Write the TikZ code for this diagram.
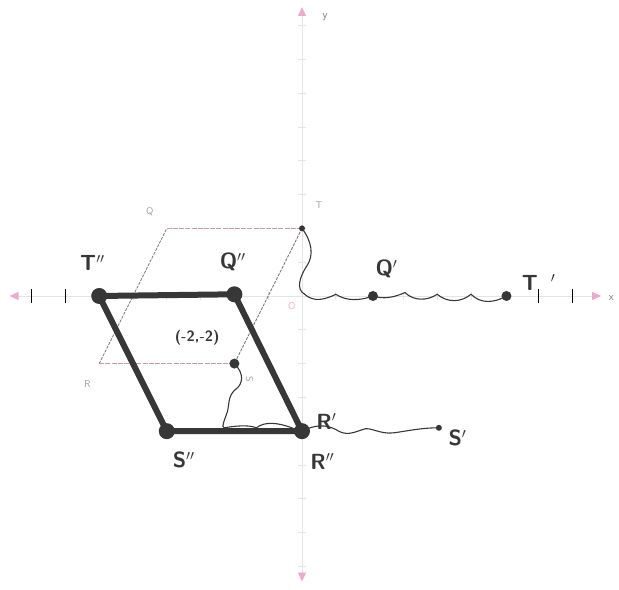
\documentclass[tikz,border=0pt]{standalone}
\usetikzlibrary{arrows.meta}
\definecolor{pinkc}{RGB}{236,170,205}
\definecolor{axisc}{RGB}{228,228,232}
\definecolor{inkc}{RGB}{55,55,55}
\definecolor{pencil}{RGB}{120,120,120}
\begin{document}
\begin{tikzpicture}[x=33.8bp,y=33.8bp,
  axisline/.style={draw=axisc,line width=0.8bp,{Triangle[color=pinkc,length=9bp,width=8bp]}-{Triangle[color=pinkc,length=9bp,width=8bp]}},
  tickmark/.style={draw=axisc,line width=0.8bp},
  handtick/.style={draw=black,line width=1.6bp},
  thickedge/.style={draw=inkc,line width=6bp,line join=round,line cap=round},
  origedge/.style={draw=pencil,line width=0.8bp,dash pattern=on 3bp off 1.2bp},
  origpink/.style={draw=pinkc!70!pencil,line width=0.8bp,dash pattern=on 5bp off 1.2bp},
  wavy/.style={draw=inkc,line width=1.1bp,line cap=round},
  bigdot/.style={circle,fill=inkc,inner sep=0pt,minimum size=16bp},
  middot/.style={circle,fill=inkc,inner sep=0pt,minimum size=10bp},
  smalldot/.style={circle,fill=inkc,inner sep=0pt,minimum size=6bp},
  biglabel/.style={inkc,font=\sffamily\bfseries\fontsize{22}{24}\selectfont,inner sep=0pt},
  midlabel/.style={inkc,font=\sffamily\bfseries\fontsize{15}{17}\selectfont,inner sep=0pt},
  faintlabel/.style={pencil!70,font=\sffamily\fontsize{10}{12}\selectfont,inner sep=0pt},
  axislabel/.style={inkc!70,font=\sffamily\fontsize{11}{12}\selectfont,inner sep=0pt}]
\useasboundingbox (-8.935,-8.698) rectangle (9.379,8.757);
% axes
\coordinate (xl) at (-8.65,0);
\coordinate (xr) at (8.85,0);
\coordinate (yb) at (0,-8.45);
\coordinate (yt) at (0,8.55);
\draw[axisline] (xl) -- (xr);
\draw[axisline] (yb) -- (yt);
\foreach \i in {-8,...,-1,1,2,...,8} {
  \draw[tickmark] (\i,-0.13) -- (\i,0.13);
  \draw[tickmark] (-0.13,\i) -- (0.13,\i);
}
\foreach \i in {-8,-7,7,8} {\draw[handtick] (\i,-0.2) -- (\i,0.2);}
\node[axislabel] (xlab) at (9.15,-0.05) {x};
\node[axislabel] (ylab) at (0.68,8.25) {y};
\node[faintlabel,text=pinkc] (olab) at (-0.3,-0.3) {O};
% original parallelogram QTSR
\coordinate (Q) at (-4,2);
\coordinate (T) at (0,2);
\coordinate (S) at (-2,-2);
\coordinate (R) at (-6,-2);
\draw[origpink] (Q) -- (T);
\draw[origedge] (T) -- (S);
\draw[origpink] (S) -- (R);
\draw[origedge] (R) -- (Q);
\node[faintlabel] (qlab) at (-4.5,2.5) {Q};
\node[faintlabel] (tlab) at (0.5,2.7) {T};
\node[faintlabel] (rlab) at (-6.35,-2.6) {R};
\node[faintlabel,rotate=-90] (slab) at (-1.55,-2.45) {S};
% image parallelogram
\node[bigdot] (T2) at (-6,0) {};
\node[bigdot] (Q2) at (-2,0.05) {};
\node[bigdot] (R2) at (0,-4) {};
\node[bigdot] (S2) at (-4,-4) {};
\draw[thickedge] (T2.center) -- (Q2.center) -- (R2.center) -- (S2.center) -- cycle;
% small dots
\node[smalldot] (Tdot) at (T) {};
\node[middot] (Sdot) at (S) {};
\node[middot] (Q1) at (2.1,0) {};
\node[middot] (T1) at (6.05,0) {};
\node[smalldot] (S1) at (4.05,-3.9) {};
% wavy path from T to T'
\draw[wavy] (Tdot.center) .. controls (0.3,1.6) and (0.35,1.2) .. (0.15,0.9)
  .. controls (-0.05,0.6) and (-0.2,0.2) .. (0.08,0.05)
  .. controls (0.35,-0.2) and (0.7,-0.1) .. (1,0.05)
  .. controls (1.3,-0.15) and (1.7,-0.15) .. (Q1.center)
  .. controls (2.4,-0.1) and (2.7,-0.05) .. (3.05,0.1)
  .. controls (3.3,-0.15) and (3.7,-0.15) .. (4,0.05)
  .. controls (4.3,-0.2) and (4.7,-0.2) .. (5,0.05)
  .. controls (5.3,-0.25) and (5.7,-0.2) .. (T1.center);
% wavy path from S down to R''
\draw[wavy] (Sdot.center) .. controls (-1.7,-2.3) and (-1.75,-2.6) .. (-1.95,-2.75)
  .. controls (-2.2,-2.95) and (-2.15,-3.2) .. (-2.2,-3.4)
  .. controls (-2.3,-3.7) and (-2.4,-3.9) .. (-2.3,-3.9)
  .. controls (-2.0,-3.85) and (-1.6,-3.8) .. (-1.35,-3.9)
  .. controls (-1.1,-3.7) and (-0.7,-3.75) .. (-0.3,-3.9)
  .. controls (-0.2,-3.95) and (-0.1,-4) .. (R2.center);
% wavy path from R'' to S'
\draw[wavy] (R2.center) .. controls (0.4,-3.8) and (0.7,-3.8) .. (1.0,-3.95)
  .. controls (1.3,-4.15) and (1.5,-4.05) .. (1.8,-3.95)
  .. controls (2.0,-3.85) and (2.3,-4.1) .. (2.7,-4.05)
  .. controls (3.1,-4.0) and (3.5,-3.9) .. (S1.center);
% labels
\node[biglabel] (T2lab) at (-6.2,0.98) {T$''$};
\node[biglabel] (Q2lab) at (-2.05,1.0) {Q$''$};
\node[biglabel] (S2lab) at (-3.5,-4.85) {S$''$};
\node[biglabel] (R2lab) at (0.6,-4.9) {R$''$};
\node[biglabel] (R1lab) at (0.72,-3.72) {R$'$};
\node[biglabel] (S1lab) at (4.6,-4.2) {S$'$};
\node[biglabel] (Q1lab) at (2.5,0.8) {Q$'$};
\node[biglabel] (T1lab) at (7.0,0.4) {T\hspace{0.6em}$'$};
\node[midlabel] (coord) at (-3.1,-1.25) {(-2,-2)};
\end{tikzpicture}
\end{document}
